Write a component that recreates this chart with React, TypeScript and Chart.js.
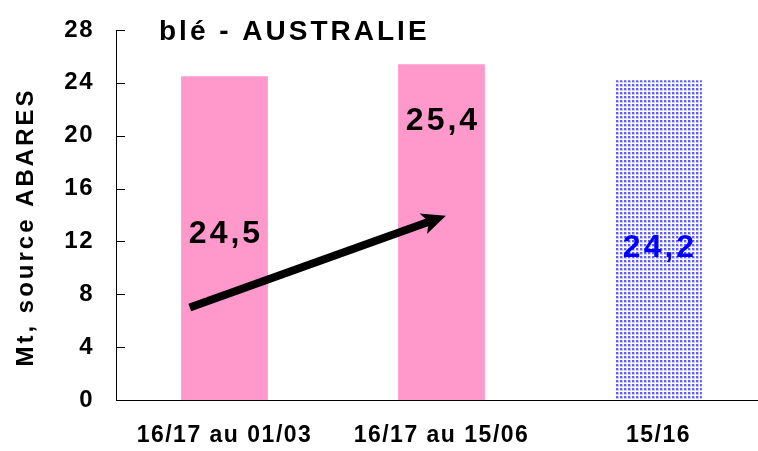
import React, { useEffect, useRef } from "react";
import { Chart, registerables } from "chart.js";

Chart.register(...registerables);

const categories = ["16/17 au 01/03", "16/17 au 15/06", "15/16"];
const values = [24.5, 25.4, 24.2];
const valueLabels = ["24,5", "25,4", "24,2"];
const labelColors = ["#000000", "#000000", "#0000FF"];
const yTicks = [0, 4, 8, 12, 16, 20, 24, 28];
const titleText = "blé - AUSTRALIE";
const yTitleText = "Mt, source ABARES";

const FONT = "'Liberation Sans', Arial, sans-serif";

function makePattern(): CanvasPattern | string {
  const c = document.createElement("canvas");
  c.width = 4;
  c.height = 4;
  const g = c.getContext("2d");
  if (!g) return "#8080FF";
  g.fillStyle = "#FFFFFF";
  g.fillRect(0, 0, 4, 4);
  g.fillStyle = "#C8C8FF";
  g.fillRect(0, 0, 3, 3);
  g.fillStyle = "#5C5CFF";
  g.fillRect(0, 0, 2, 2);
  const p = g.createPattern(c, "repeat");
  return p || "#8080FF";
}

const overlayPlugin = {
  id: "overlay",
  beforeDraw(chart: any) {
    chart.ctx.letterSpacing = "1.5px";
  },
  afterDraw(chart: any, _args: any, opts: any) {
    const ctx = chart.ctx as CanvasRenderingContext2D;
    const xs = chart.scales.x;
    const ys = chart.scales.y;
    const area = chart.chartArea;
    ctx.save();
    // inward y ticks
    ctx.strokeStyle = "#000";
    ctx.lineWidth = 1;
    yTicks.forEach((t) => {
      const py = Math.round(ys.getPixelForValue(t)) + 0.5;
      ctx.beginPath();
      ctx.moveTo(area.left, py);
      ctx.lineTo(area.left + 9, py);
      ctx.stroke();
    });
    // title
    (ctx as any).letterSpacing = "3px";
    ctx.fillStyle = "#000";
    ctx.font = `bold 28px ${FONT}`;
    ctx.textAlign = "left";
    ctx.textBaseline = "alphabetic";
    ctx.fillText(titleText, area.left + 43, area.top + 9.5);
    // y title
    ctx.save();
    ctx.font = `bold 24px ${FONT}`;
    (ctx as any).letterSpacing = "3px";
    ctx.translate(33, (area.top + area.bottom) / 2 + 12);
    ctx.rotate(-Math.PI / 2);
    ctx.textAlign = "center";
    ctx.fillText(yTitleText, 0, 0);
    ctx.restore();
    // value labels
    ctx.font = `bold 32px ${FONT}`;
    (ctx as any).letterSpacing = "3px";
    ctx.textAlign = "center";
    valueLabels.forEach((lab, i) => {
      ctx.fillStyle = labelColors[i];
      ctx.fillText(lab, xs.getPixelForValue(i) + 1.5, ys.getPixelForValue(opts.labelAt[i]));
    });
    // arrow
    const x1 = xs.getPixelForValue(opts.arrowFrom[0]);
    const y1 = ys.getPixelForValue(opts.arrowFrom[1]);
    const x2 = xs.getPixelForValue(opts.arrowTo[0]);
    const y2 = ys.getPixelForValue(opts.arrowTo[1]);
    const ang = Math.atan2(y2 - y1, x2 - x1);
    const headLen = 24;
    const headW = 11;
    const bx = x2 - headLen * Math.cos(ang) * 0.75;
    const by = y2 - headLen * Math.sin(ang) * 0.75;
    ctx.strokeStyle = "#000";
    ctx.lineWidth = 8;
    ctx.lineCap = "butt";
    ctx.beginPath();
    ctx.moveTo(x1, y1);
    ctx.lineTo(bx, by);
    ctx.stroke();
    ctx.fillStyle = "#000";
    ctx.beginPath();
    ctx.moveTo(x2, y2);
    ctx.lineTo(
      x2 - headLen * Math.cos(ang) + headW * Math.sin(ang),
      y2 - headLen * Math.sin(ang) - headW * Math.cos(ang)
    );
    ctx.lineTo(bx, by);
    ctx.lineTo(
      x2 - headLen * Math.cos(ang) - headW * Math.sin(ang),
      y2 - headLen * Math.sin(ang) + headW * Math.cos(ang)
    );
    ctx.closePath();
    ctx.fill();
    ctx.restore();
  },
};

export default function App() {
  const ref = useRef<HTMLCanvasElement | null>(null);
  useEffect(() => {
    if (!ref.current) return;
    const pattern = makePattern();
    const chart = new Chart(ref.current, {
      type: "bar",
      data: {
        labels: categories,
        datasets: [
          {
            data: values,
            backgroundColor: ["#FF99CC", "#FF99CC", pattern as any],
            borderWidth: 0,
            barPercentage: 0.4,
            categoryPercentage: 1,
          },
        ],
      },
      options: {
        animation: false,
        responsive: false,
        devicePixelRatio: 1,
        layout: { padding: { top: 30, left: 0, right: 3, bottom: 0 } },
        plugins: {
          legend: { display: false },
          tooltip: { enabled: false },
          overlay: {
            labelAt: [11.9, 20.4, 10.8],
            arrowFrom: [-0.16, 7.0],
            arrowTo: [1.02, 13.95],
          },
        } as any,
        scales: {
          x: {
            grid: { display: false, drawTicks: false },
            border: { display: true, color: "#000", width: 1 },
            ticks: {
              color: "#000",
              padding: 22,
              maxRotation: 0,
              font: { family: FONT, size: 23, weight: "bold" },
            },
            afterFit: (s: any) => {
              s.height = 51;
              s.paddingLeft = 0;
              s.paddingRight = 0;
            },
          },
          y: {
            min: 0,
            max: 28,
            grid: { display: false, drawTicks: false },
            border: { display: true, color: "#000", width: 1 },
            ticks: {
              stepSize: 4,
              color: "#000",
              padding: 22,
              font: { family: FONT, size: 24, weight: "bold" },
            },
            afterFit: (s: any) => {
              s.width = 116;
              s.paddingTop = 0;
              s.paddingBottom = 0;
            },
          },
        },
      },
      plugins: [overlayPlugin],
    });
    return () => chart.destroy();
  }, []);
  return (
    <div style={{ position: "absolute", left: 0, top: 0, width: 758, height: 451, overflow: "hidden", background: "#fff" }}>
      <canvas ref={ref} width={770} height={451} style={{ width: 770, height: 451, display: "block" }} />
    </div>
  );
}
